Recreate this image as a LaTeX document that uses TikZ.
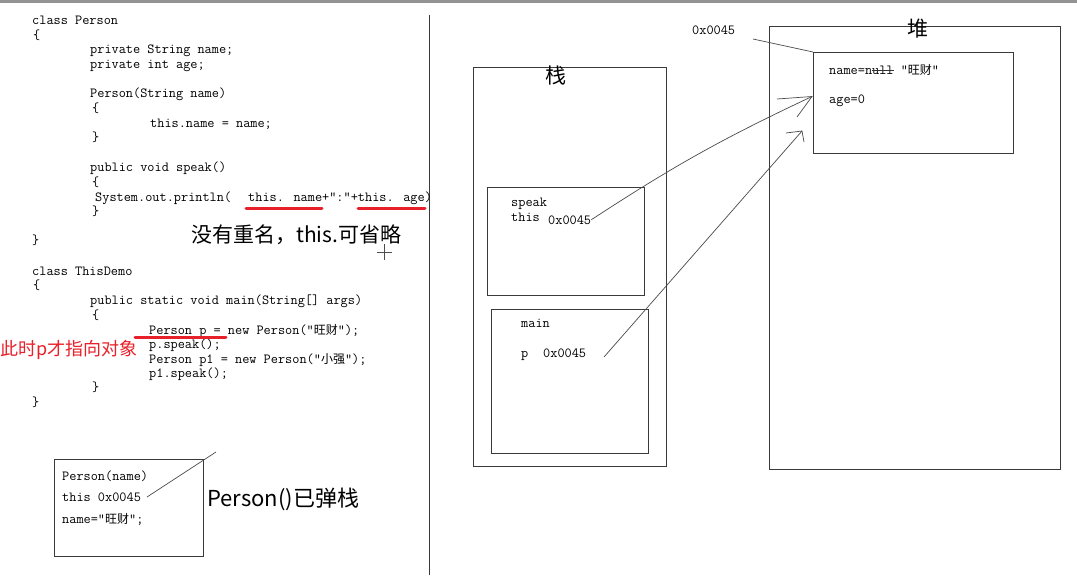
\documentclass[tikz,border=0pt]{standalone}
\usepackage{fontspec}
\newfontfamily\cjk{Noto Sans CJK SC}
\newcommand\codefnt{\fontsize{13.9}{14}\selectfont\ttfamily}
\newcommand\cjkcode{\cjk\fontsize{12}{12}\selectfont}
\definecolor{boxgray}{HTML}{3A3A3A}
\definecolor{linegray}{HTML}{4A4A4A}
\definecolor{markred}{HTML}{E8202A}
\begin{document}
\begin{tikzpicture}[x=1pt,y=-1pt,
  code/.style={font=\codefnt, anchor=base west, inner sep=0pt, text=black},
  note/.style={font=\cjk\fontsize{21}{21}\selectfont, anchor=base west, inner sep=0pt},
  rednote/.style={font=\cjk\fontsize{18}{18}\selectfont, anchor=base west, inner sep=0pt, text=markred},
  title/.style={font=\cjk\fontsize{21}{21}\selectfont, inner sep=0pt},
  box/.style={draw=boxgray, line width=0.9pt},
  link/.style={draw=linegray, line width=0.7pt},
  underl/.style={draw=markred, line width=3pt, line cap=round}]
\useasboundingbox (0,0) rectangle (1077,583);
\fill[white] (0,0) rectangle (1077,583);
\fill[gray!85] (0,0) rectangle (1077,3);
\draw[line width=0.9pt, boxgray] (429,15) -- (429,575);

% ---- code: class Person
\node[code] (c1) at (32,25) {class Person};
\node[code] (c2) at (33,39.5) {\{};
\node[code] (c3) at (90,54) {private String name;};
\node[code] (c4) at (90,68.5) {private int age;};
\node[code] (c5) at (90,98) {Person(String name)};
\node[code] (c6) at (92,112.5) {\{};
\node[code] (c7) at (150,127.5) {this.name = name;};
\node[code] (c8) at (92,141.5) {\}};
\node[code] (c9) at (90,171.5) {public void speak()};
\node[code] (c10) at (92,186) {\{};
\node[code] (c11) at (95,201) {System.out.println(};
\node[code] (c12) at (248,201) {this. name+":"+this. age)};
\node[code] (c13) at (92,215) {\}};
\node[code] (c14) at (32,244) {\}};
\draw[underl] (246,209) -- (322,209);
\draw[underl] (358,209) -- (425,209);
\node[note] (n1) at (191,242) {没有重名，this.可省略};
% cursor mark
\draw[line width=0.6pt, black!70] (384,244) -- (384,260) (377,252) -- (392,252);

% ---- code: class ThisDemo
\node[code] (d1) at (32,275) {class ThisDemo};
\node[code] (d2) at (33,289.5) {\{};
\node[code] (d3) at (90,304) {public static void main(String[] args)};
\node[code] (d4) at (92,319) {\{};
\node[code] (d5) at (149,334) {Person p = new Person("{\cjkcode 旺财}");};
\node[code] (d6) at (149,348.5) {p.speak();};
\node[code] (d7) at (149,363) {Person p1 = new Person("{\cjkcode 小强}");};
\node[code] (d8) at (149,377.5) {p1.speak();};
\node[code] (d9) at (92,391.5) {\}};
\node[code] (d10) at (32,406) {\}};
\draw[underl] (135,337.5) -- (226,337.5);
\node[rednote] (n2) at (0,355) {此时p才指向对象};

% ---- popped frame
\draw[box] (54,459) rectangle (203,556);
\node[code] (pf1) at (62,480) {Person(name)};
\node[code] (pf2) at (62,501) {this 0x0045};
\node[code] (pf3) at (62,523) {name="{\cjkcode 旺财}";};
\coordinate (pfa) at (147,497);
\coordinate (pfb) at (216,452);
\draw[link] (pfa) -- (pfb);
\node[note, font=\cjk\fontsize{22}{22}\selectfont] (n3) at (207,506) {Person()已弹栈};

% ---- stack
\draw[box] (473,67) rectangle (666,466);
\node[title] (stk) at (556,76) {栈};
\draw[box] (487,187) rectangle (644,295);
\node[code] (sp1) at (511,207) {speak};
\node[code] (sp2) at (511,222) {this};
\node[code] (sp3) at (548,224) {0x0045};
\draw[box] (491,309) rectangle (648,453);
\node[code] (mn1) at (521,327) {main};
\node[code] (mn2) at (521,357) {p};
\node[code] (mn3) at (543,357) {0x0045};

% ---- heap
\draw[box] (769,26) rectangle (1060,469);
\node[title] (hp) at (918,29) {堆};
\node[box, minimum width=200pt, minimum height=101pt, anchor=north west, inner sep=0pt] (obj) at (813,52) {};
\node[code] (ob1) at (829,75) {name=null "{\cjkcode 旺财}"};
\draw[line width=0.6pt, black!80] (872,70.5) -- (894,70.5);
\node[code] (ob2) at (829,104) {age=0};
\node[code] (hadr) at (692,35) {0x0045};
\coordinate (hadrend) at (753,39);
\draw[link] (hadrend) -- (obj.north west);

% ---- references
\coordinate (tip1) at (812,96.5);
\coordinate (b1a) at (777,99);
\coordinate (b1b) at (797,117);
\draw[link] (sp3.east) to[bend left=4] (tip1);
\draw[link] (b1a) -- (tip1) -- (b1b);

\coordinate (mstart) at (604,357);
\coordinate (tip2) at (802,131);
\coordinate (b2a) at (786,133);
\coordinate (b2b) at (804,142);
\draw[link] (mstart) -- (tip2);
\draw[link] (b2a) -- (tip2) -- (b2b);
\end{tikzpicture}
\end{document}
